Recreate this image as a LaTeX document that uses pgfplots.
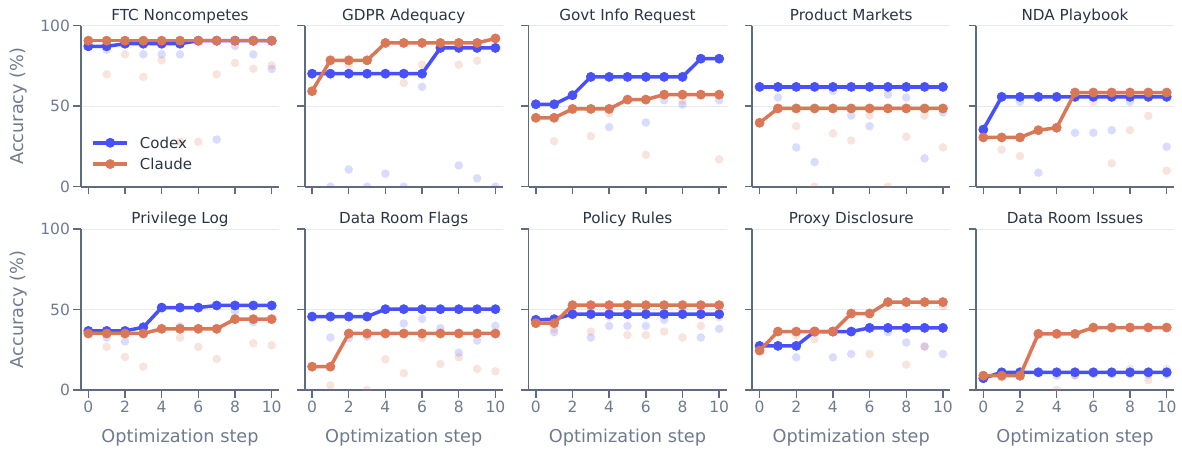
\documentclass[border=0pt]{standalone}
\usepackage{fontspec}
\setmainfont{DejaVu Sans}
\usepackage{pgfplots}
\pgfplotsset{compat=1.18}

\definecolor{codexc}{RGB}{72,80,248}
\definecolor{claudec}{RGB}{217,119,87}
\definecolor{spinec}{RGB}{95,107,128}
\definecolor{tickc}{RGB}{112,122,142}
\definecolor{titlec}{RGB}{42,52,68}
\definecolor{gridc}{RGB}{229,233,240}

\pgfplotsset{
  panel/.style={
    scale only axis, width=198pt, height=161pt,
    xmin=-0.4, xmax=10.4, ymin=0, ymax=100, enlargelimits=false,
    axis x line*=bottom, axis y line*=left,
    axis line style={-, spinec, line width=1.6pt},
    xtick={0,2,4,6,8,10}, ytick={0,50,100},
    tick align=outside, major tick length=7.5pt,
    tick style={spinec, line width=1.4pt},
    ymajorgrids, major grid style={gridc, line width=1pt},
    clip marker paths=true,
    tick label style={font=\fontsize{15.5}{18}\selectfont, text=tickc},
    /pgf/number format/assume math mode=true,
    every axis title shift=0pt,
    title style={font=\fontsize{15.2}{17}\selectfont, text=titlec, at={(0.5,1)}, anchor=base, yshift=5.5pt},
    label style={font=\fontsize{17.7}{20}\selectfont, text=tickc},
    xlabel style={at={(0.5,0)}, anchor=base, yshift=-52.5pt},
    ylabel style={at={(-0.316,0.5)}, anchor=center},
  },
  noxl/.style={xticklabels={}},
  noyl/.style={yticklabels={}},
  faintcodex/.style={only marks, color=codexc, mark=*, mark size=4.3pt, mark options={draw=codexc, fill=codexc, draw opacity=0, fill opacity=0.2, line width=0pt}, forget plot},
  faintclaude/.style={only marks, color=claudec, mark=*, mark size=4.3pt, mark options={draw=claudec, fill=claudec, draw opacity=0, fill opacity=0.2, line width=0pt}, forget plot},
  maincodex/.style={codexc, line width=3.5pt, line join=round, mark=*, mark size=4.6pt, mark options={draw=codexc, fill=codexc, line width=0.6pt, line join=miter}},
  mainclaude/.style={claudec, line width=3.5pt, line join=round, mark=*, mark size=4.6pt, mark options={draw=claudec, fill=claudec, line width=0.6pt, line join=miter}},
}

\newcommand{\panel}[6]{%
  \begin{axis}[panel, #1, title={#2}]
    \addplot[faintcodex] coordinates {#5};
    \addplot[faintclaude] coordinates {#6};
    \addplot[maincodex] coordinates {#3};
    \addplot[mainclaude] coordinates {#4};
  \end{axis}}

\begin{document}
\begin{tikzpicture}
\useasboundingbox (0pt,0pt) rectangle (1182pt,448pt);

% Row 1
\panel{at={(81pt,261.3pt)}, anchor=south west, noxl, ylabel={Accuracy (\%)},
  legend entries={Codex,Claude},
  legend image code/.code={\draw[mark repeat=2,mark phase=2,#1] plot coordinates {(0pt,0pt) (17pt,0pt) (34pt,0pt)};},
  legend style={at={(0.052,0.105)}, anchor=south west, draw=none, fill=none, inner sep=0pt,
    font=\fontsize{15}{18}\selectfont, text=titlec,
    nodes={inner sep=0pt, text height=11pt, text depth=0pt},
    row sep=10.3pt, column sep=11pt},
  legend cell align=left}
{FTC Noncompetes}
{(0,87.2)(1,87.2)(2,88.8)(3,88.8)(4,88.8)(5,88.8)(6,90.7)(7,90.7)(8,90.7)(9,90.7)(10,90.7)}
{(0,90.7)(1,90.7)(2,90.7)(3,90.7)(4,90.7)(5,90.7)(6,90.7)(7,90.7)(8,90.7)(9,90.7)(10,90.7)}
{(1,85.1)(3,82.2)(4,82.2)(5,82.2)(7,29.3)(8,87.4)(9,82.2)(10,73.1)}
{(1,69.8)(2,82.2)(3,68.2)(4,78.5)(5,27.9)(6,27.9)(7,69.8)(8,76.9)(9,73.3)(10,75.4)}

\panel{at={(304.75pt,261.3pt)}, anchor=south west, noxl, noyl}
{GDPR Adequacy}
{(0,70.2)(1,70.2)(2,70.2)(3,70.2)(4,70.2)(5,70.2)(6,70.2)(7,86.2)(8,86.2)(9,86.2)(10,86.2)}
{(0,59.3)(1,78.5)(2,78.5)(3,78.5)(4,89.3)(5,89.3)(6,89.3)(7,89.3)(8,89.3)(9,89.3)(10,92.1)}
{(1,0)(2,10.7)(3,0)(4,8.1)(5,0)(6,62.0)(8,13.2)(9,5.2)(10,0)}
{(2,75.4)(5,64.5)(6,75.8)(8,75.8)(9,78.3)}

\panel{at={(528.5pt,261.3pt)}, anchor=south west, noxl, noyl}
{Govt Info Request}
{(0,51.2)(1,51.2)(2,56.8)(3,68.2)(4,68.2)(5,68.2)(6,68.2)(7,68.2)(8,68.2)(9,79.5)(10,79.5)}
{(0,42.8)(1,42.8)(2,48.3)(3,48.3)(4,48.3)(5,54.1)(6,54.1)(7,57.2)(8,57.2)(9,57.2)(10,57.2)}
{(4,37.0)(6,39.9)(7,53.7)(8,51.0)(10,53.7)}
{(1,28.3)(3,31.4)(4,45.5)(6,19.8)(8,53.3)(10,16.9)}

\panel{at={(752.25pt,261.3pt)}, anchor=south west, noxl, noyl}
{Product Markets}
{(0,62.0)(1,62.0)(2,62.0)(3,62.0)(4,62.0)(5,62.0)(6,62.0)(7,62.0)(8,62.0)(9,62.0)(10,62.0)}
{(0,39.7)(1,48.6)(2,48.6)(3,48.6)(4,48.6)(5,48.6)(6,48.6)(7,48.6)(8,48.6)(9,48.6)(10,48.6)}
{(1,55.4)(2,24.4)(3,15.3)(4,59.5)(5,44.2)(6,37.6)(7,57.2)(8,55.4)(9,17.6)(10,46.1)}
{(2,37.6)(3,0)(4,33.1)(5,28.7)(6,44.2)(7,0)(8,31.0)(9,44.2)(10,24.4)}

\panel{at={(976pt,261.3pt)}, anchor=south west, noxl, noyl}
{NDA Playbook}
{(0,35.5)(1,55.8)(2,55.8)(3,55.8)(4,55.8)(5,55.8)(6,55.8)(7,55.8)(8,55.8)(9,55.8)(10,55.8)}
{(0,30.6)(1,30.6)(2,30.6)(3,35.1)(4,36.6)(5,58.5)(6,58.5)(7,58.5)(8,58.5)(9,58.5)(10,58.5)}
{(2,52.7)(3,8.7)(5,33.5)(6,33.5)(7,35.1)(8,52.7)(10,24.8)}
{(1,23.1)(2,19.0)(6,52.7)(7,14.5)(8,35.1)(9,44.0)(10,9.9)}

% Row 2
\panel{at={(81pt,58pt)}, anchor=south west, ylabel={Accuracy (\%)}, xlabel={Optimization step}}
{Privilege Log}
{(0,36.7)(1,36.7)(2,36.7)(3,39.0)(4,51.2)(5,51.2)(6,51.2)(7,52.5)(8,52.5)(9,52.5)(10,52.5)}
{(0,35.1)(1,35.1)(2,35.1)(3,35.1)(4,38.0)(5,38.0)(6,38.0)(7,38.0)(8,44.0)(9,44.0)(10,44.0)}
{(1,32.6)(2,30.1)(5,39.4)(8,48.8)(9,42.1)}
{(1,26.8)(2,20.5)(3,14.5)(5,32.6)(6,26.8)(7,19.3)(9,29.0)(10,27.8)}

\panel{at={(304.75pt,58pt)}, anchor=south west, noyl, xlabel={Optimization step}}
{Data Room Flags}
{(0,45.6)(1,45.6)(2,45.6)(3,45.6)(4,50.2)(5,50.2)(6,50.2)(7,50.2)(8,50.2)(9,50.2)(10,50.2)}
{(0,14.5)(1,14.5)(2,35.1)(3,35.1)(4,35.1)(5,35.1)(6,35.1)(7,35.1)(8,35.1)(9,35.1)(10,35.1)}
{(1,32.6)(2,32.2)(3,33.2)(5,41.3)(6,44.2)(7,38.4)(8,23.2)(9,30.7)(10,39.8)}
{(1,2.9)(3,0)(4,19.1)(5,10.4)(6,32.2)(7,16.2)(8,20.3)(9,13.1)(10,11.6)}

\panel{at={(528.5pt,58pt)}, anchor=south west, noyl, xlabel={Optimization step}}
{Policy Rules}
{(0,43.6)(1,44.0)(2,47.1)(3,47.1)(4,47.1)(5,47.1)(6,47.1)(7,47.1)(8,47.1)(9,47.1)(10,47.1)}
{(0,41.5)(1,41.5)(2,52.7)(3,52.7)(4,52.7)(5,52.7)(6,52.7)(7,52.7)(8,52.7)(9,52.7)(10,52.7)}
{(1,35.9)(3,32.6)(4,39.8)(5,39.8)(6,39.8)(7,43.6)(9,32.6)(10,38.0)}
{(1,37.8)(3,36.3)(4,45.6)(5,34.2)(6,34.2)(7,36.3)(8,32.6)(9,39.8)(10,45.2)}

\panel{at={(752.25pt,58pt)}, anchor=south west, noyl, xlabel={Optimization step}}
{Proxy Disclosure}
{(0,27.4)(1,27.4)(2,27.4)(3,36.3)(4,36.3)(5,36.3)(6,38.6)(7,38.6)(8,38.6)(9,38.6)(10,38.6)}
{(0,24.5)(1,36.3)(2,36.3)(3,36.3)(4,36.3)(5,47.5)(6,47.5)(7,54.6)(8,54.6)(9,54.6)(10,54.6)}
{(2,20.3)(4,20.3)(5,22.4)(7,35.9)(8,29.5)(9,27.0)(10,22.4)}
{(2,33.8)(3,31.5)(6,22.4)(8,15.8)(9,27.0)(10,51.9)}

\panel{at={(976pt,58pt)}, anchor=south west, noyl, xlabel={Optimization step}}
{Data Room Issues}
{(0,7.3)(1,11.0)(2,11.0)(3,11.0)(4,11.0)(5,11.0)(6,11.0)(7,11.0)(8,11.0)(9,11.0)(10,11.0)}
{(0,8.9)(1,8.9)(2,8.9)(3,34.9)(4,34.9)(5,34.9)(6,38.8)(7,38.8)(8,38.8)(9,38.8)(10,38.8)}
{(4,9.0)(5,9.3)(6,9.8)(7,9.8)(8,9.8)(9,9.5)(10,9.5)}
{(1,7.7)(2,8.3)(4,0)(5,9.0)(8,13.1)(9,6.2)(10,13.1)}

\end{tikzpicture}
\end{document}
